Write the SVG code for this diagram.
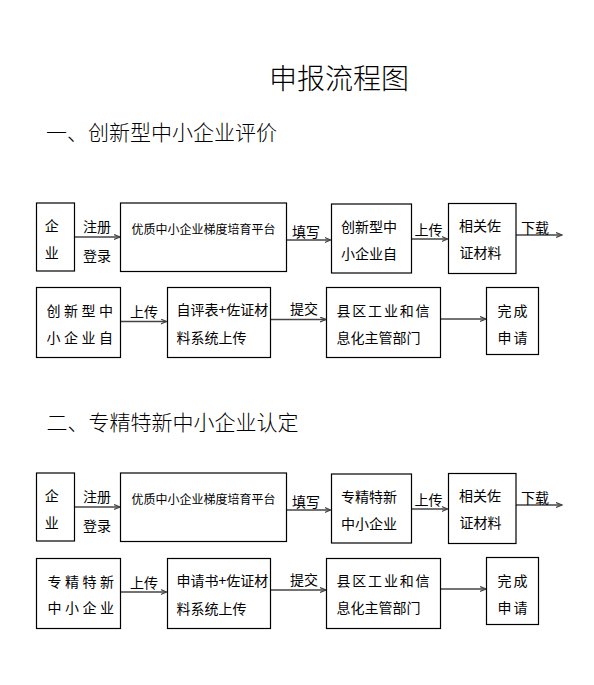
<svg xmlns="http://www.w3.org/2000/svg" width="594" height="685" viewBox="0 0 594 685">
<style>
text{font-family:"Noto Sans CJK SC","Noto Sans",sans-serif;fill:#000;}
.box{fill:#fff;stroke:#000;stroke-width:1.2;}
.t{font-size:14px;}
.s{font-size:12px;}
.lbl{font-size:14px;}
.h{font-size:21px;font-weight:300;}
.title{font-size:28px;font-weight:300;}
.c{fill:none;stroke:#444;stroke-width:1.4;marker-end:url(#arr);}
</style>
<defs>
<marker id="arr" markerUnits="userSpaceOnUse" markerWidth="8" markerHeight="8" refX="6" refY="3" orient="auto">
<path d="M0,0.5 L6,3 L0,5.5" fill="none" stroke="#444" stroke-width="1.2"/>
</marker>
</defs>
<rect width="594" height="685" fill="#fff"/>
<text class="title" x="269" y="89">申报流程图</text>
<text class="h" x="46" y="140">一、创新型中小企业评价</text>
<text class="h" x="46.5" y="430">二、专精特新中小企业认定</text>

<g id="connectors">
<line class="c" x1="75" y1="237" x2="120" y2="237"/>
<line class="c" x1="287" y1="240" x2="330.5" y2="240"/>
<line class="c" x1="412" y1="239" x2="447.5" y2="239"/>
<line class="c" x1="516" y1="235" x2="562" y2="235"/>
<line class="c" x1="121" y1="321.5" x2="166.5" y2="321.5"/>
<line class="c" x1="271" y1="319.5" x2="326" y2="319.5"/>
<line class="c" x1="441" y1="319" x2="486" y2="319"/>
<text class="lbl" x="83" y="231.5">注册</text>
<text class="lbl" x="83" y="260.5">登录</text>
<text class="lbl" x="292" y="237">填写</text>
<text class="lbl" x="414.5" y="235">上传</text>
<text class="lbl" x="521" y="233">下载</text>
<text class="lbl" x="130" y="317">上传</text>
<text class="lbl" x="290" y="314">提交</text>
<line class="c" x1="75" y1="507" x2="120" y2="507"/>
<line class="c" x1="287" y1="510" x2="330.5" y2="510"/>
<line class="c" x1="412" y1="509" x2="447.5" y2="509"/>
<line class="c" x1="516" y1="505" x2="562" y2="505"/>
<line class="c" x1="121" y1="592" x2="166.5" y2="592"/>
<line class="c" x1="271" y1="590" x2="326" y2="590"/>
<line class="c" x1="441" y1="589" x2="486" y2="589"/>
<text class="lbl" x="83" y="501.5">注册</text>
<text class="lbl" x="83" y="530.5">登录</text>
<text class="lbl" x="292" y="507">填写</text>
<text class="lbl" x="414.5" y="505">上传</text>
<text class="lbl" x="521" y="503">下载</text>
<text class="lbl" x="130" y="588">上传</text>
<text class="lbl" x="290" y="585">提交</text>
</g>

<g id="s1-company">
<rect class="box" x="36.5" y="203" width="38" height="68"/>
<text class="t" x="44.7" y="230.5">企</text>
<text class="t" x="44.7" y="257.5">业</text>
</g>
<g id="s1-platform">
<rect class="box" x="120.5" y="203" width="166" height="68.5"/>
<text class="s" x="131.5" y="233.5">优质中小企业梯度培育平台</text>
</g>
<g id="s1-self">
<rect class="box" x="331.5" y="204" width="80" height="69"/>
<text class="t" x="341" y="231.5">创新型中</text>
<text class="t" x="341" y="258.5">小企业自</text>
</g>
<g id="s1-materials">
<rect class="box" x="448.5" y="203.5" width="67.5" height="70"/>
<text class="t" x="459" y="230.5">相关佐</text>
<text class="t" x="459.5" y="258">证材料</text>
</g>
<g id="s1-self2">
<rect class="box" x="36.5" y="287.5" width="84" height="70"/>
<text class="t" x="46.5" y="315.5" letter-spacing="3.5">创新型中</text>
<text class="t" x="46.5" y="342.5" letter-spacing="3.5">小企业自</text>
</g>
<g id="s1-upload">
<rect class="box" x="167.5" y="287.5" width="103" height="70"/>
<text class="t" x="176.5" y="315">自评表+佐证材</text>
<text class="t" x="176.5" y="343">料系统上传</text>
</g>
<g id="s1-county">
<rect class="box" x="326.5" y="287.5" width="114" height="70"/>
<text class="t" x="336.5" y="315.5" letter-spacing="1.8">县区工业和信</text>
<text class="t" x="336.5" y="343">息化主管部门</text>
</g>
<g id="s1-done">
<rect class="box" x="486.5" y="287.5" width="52" height="67"/>
<text class="t" x="497.5" y="316" letter-spacing="2">完成</text>
<text class="t" x="497.5" y="343" letter-spacing="2">申请</text>
</g>

<g id="s2-company">
<rect class="box" x="36.5" y="473" width="38" height="68"/>
<text class="t" x="44.7" y="500.5">企</text>
<text class="t" x="44.7" y="527.5">业</text>
</g>
<g id="s2-platform">
<rect class="box" x="120.5" y="473" width="166" height="68.5"/>
<text class="s" x="131.5" y="503.5">优质中小企业梯度培育平台</text>
</g>
<g id="s2-self">
<rect class="box" x="331.5" y="474" width="80" height="69"/>
<text class="t" x="341" y="502">专精特新</text>
<text class="t" x="341" y="529">中小企业</text>
</g>
<g id="s2-materials">
<rect class="box" x="448.5" y="473.5" width="67.5" height="70"/>
<text class="t" x="459" y="500.5">相关佐</text>
<text class="t" x="459.5" y="528">证材料</text>
</g>
<g id="s2-self2">
<rect class="box" x="36.5" y="558.5" width="84" height="70"/>
<text class="t" x="47.5" y="587" letter-spacing="3.5">专精特新</text>
<text class="t" x="47.5" y="613" letter-spacing="3.5">中小企业</text>
</g>
<g id="s2-upload">
<rect class="box" x="167.5" y="558.5" width="103" height="70"/>
<text class="t" x="176.5" y="586">申请书+佐证材</text>
<text class="t" x="176.5" y="614">料系统上传</text>
</g>
<g id="s2-county">
<rect class="box" x="326.5" y="558.5" width="114" height="70"/>
<text class="t" x="336.5" y="585.5" letter-spacing="1.8">县区工业和信</text>
<text class="t" x="336.5" y="613">息化主管部门</text>
</g>
<g id="s2-done">
<rect class="box" x="486.5" y="557.5" width="52" height="67"/>
<text class="t" x="497.5" y="586" letter-spacing="2">完成</text>
<text class="t" x="497.5" y="613" letter-spacing="2">申请</text>
</g>
</svg>
